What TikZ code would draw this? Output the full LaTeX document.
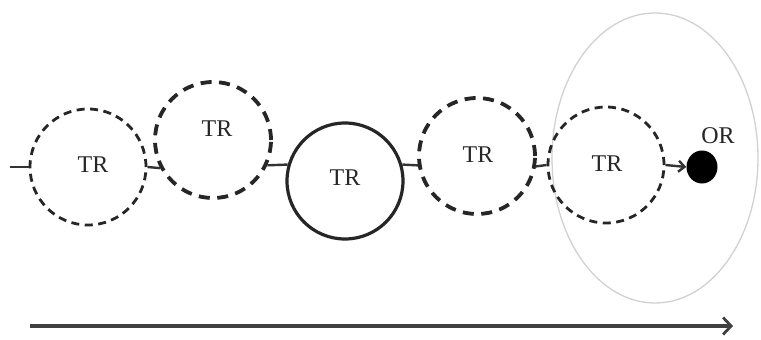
\documentclass[tikz,border=0pt]{standalone}
\usepackage{fontspec}
\setmainfont{Liberation Serif}
\usetikzlibrary{arrows.meta,shapes.geometric}
\begin{document}
\begin{tikzpicture}[x=1pt,y=-1pt,
  ring/.style={circle,minimum size=116pt,inner sep=0pt,draw=black!85},
  thindash/.style={ring,line width=2.8pt,dash pattern=on 8pt off 5.5pt},
  thickdash/.style={ring,line width=3.8pt,dash pattern=on 11pt off 7.5pt},
  solidring/.style={ring,line width=3.2pt},
  link/.style={line width=2.4pt,draw=black!80},
  lbl/.style={font=\fontsize{24}{24}\selectfont,text=black!85}]
\useasboundingbox (0,0) rectangle (761,340);
% shaded region round the last stage
\node[ellipse,draw=black!18,line width=1.3pt,minimum width=206pt,minimum height=290pt] (zone) at (655,158) {};
% the five stages
\node[thindash]  (c1) at (88,167) {};
\node[thickdash] (c2) at (213,140) {};
\node[solidring] (c3) at (345,181) {};
\node[thickdash] (c4) at (477,156) {};
\node[thindash]  (c5) at (606,165) {};
\node[lbl] (t1) at (93,165) {TR};
\node[lbl] (t2) at (217,129) {TR};
\node[lbl] (t3) at (345,178) {TR};
\node[lbl] (t4) at (478,155) {TR};
\node[lbl] (t5) at (607,164) {TR};
% outcome
\node[ellipse,fill=black,minimum width=31pt,minimum height=33pt,inner sep=0pt] (dot) at (702,167) {};
\node[lbl] (or) at (718,136) {OR};
% links between stages
\coordinate (start) at (10,167);
\draw[link] (start) -- (c1.west);
\draw[link] (c1.east) -- (c2.208);
\draw[link] (c2.-25) -- (c3.164);
\draw[link] (c3.16) -- (c4.189);
\draw[link] (c4.-10) -- (c5.west);
\draw[link,-{Straight Barb[length=6pt,width=11pt,line width=2.4pt]}] (c5.east) -- (dot.west);
% time axis
\coordinate (ax0) at (30,326);
\coordinate (ax1) at (733,326);
\draw[line width=3.4pt,draw=black!75,-{Straight Barb[length=8pt,width=17pt,line width=2.8pt]}] (ax0) -- (ax1);
\end{tikzpicture}
\end{document}
